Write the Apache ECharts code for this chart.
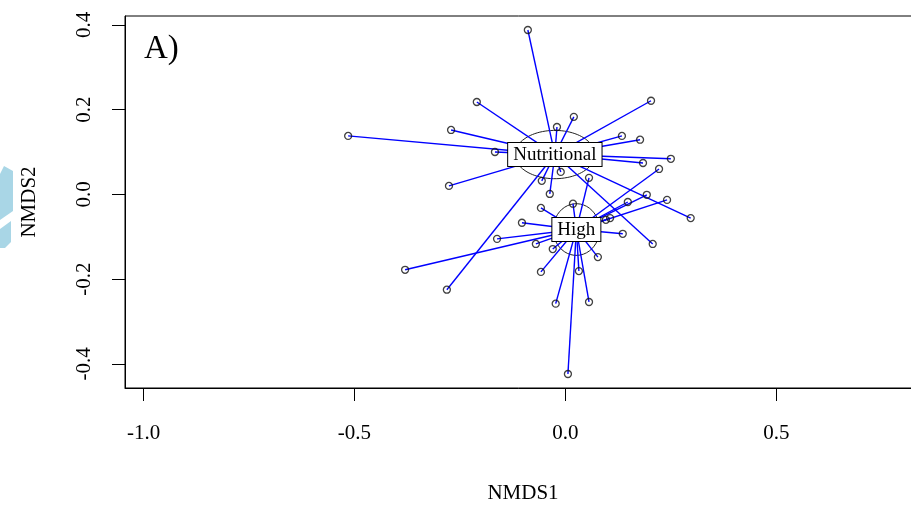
<!DOCTYPE html>
<html>
<head>
<meta charset="utf-8">
<script src="https://cdn.jsdelivr.net/npm/echarts@6/dist/echarts.min.js"></script>
<style>
html,body{margin:0;padding:0;background:#fff;}
#c{width:911px;height:507px;}
</style>
</head>
<body>
<div id="c"></div>
<script>
// ---- data ----
var groups = ['Nutritional', 'High'];
var centX = [-0.025, 0.026];
var centY = [0.094, -0.083];
// ellipse half-widths (x units) and half-heights (y units)
var ellA = [0.095, 0.055];
var ellB = [0.057, 0.061];

var nutX = [-0.089, -0.210, -0.271, -0.515, -0.167, -0.276, 0.203, 0.020, -0.020, 0.134, 0.177, 0.250, 0.184, -0.056, -0.037, -0.281, 0.297, 0.207, -0.011];
var nutY = [0.388, 0.218, 0.152, 0.138, 0.100, 0.020, 0.221, 0.183, 0.159, 0.138, 0.129, 0.084, 0.074, 0.032, 0.001, -0.225, -0.056, -0.117, 0.053];

var highX = [0.222, 0.193, 0.148, 0.241, 0.056, 0.018, -0.058, -0.103, -0.162, -0.070, -0.030, -0.380, -0.058, -0.023, 0.032, 0.077, 0.056, 0.006, 0.136, 0.096, 0.106];
var highY = [0.060, -0.001, -0.018, -0.013, 0.039, -0.022, -0.032, -0.067, -0.105, -0.117, -0.129, -0.178, -0.183, -0.258, -0.181, -0.148, -0.254, -0.424, -0.093, -0.060, -0.056];

var xTicks = [-1.0, -0.5, 0.0, 0.5];
var yTicks = [-0.4, -0.2, 0.0, 0.2, 0.4];

// ---- build series ----
var FONT = 'Liberation Serif';
var groupX = [nutX, highX];
var groupY = [nutY, highY];

var spider = [];
var pts = [];
var ellipses = [];
for (var g = 0; g < groups.length; g++) {
  for (var i = 0; i < groupX[g].length; i++) {
    spider.push({coords: [[centX[g], centY[g]], [groupX[g][i], groupY[g][i]]]});
    pts.push([groupX[g][i], groupY[g][i]]);
  }
  var e = [];
  for (var k = 0; k <= 90; k++) {
    var t = k / 90 * Math.PI * 2;
    e.push([centX[g] + ellA[g] * Math.cos(t), centY[g] + ellB[g] * Math.sin(t)]);
  }
  ellipses.push(e);
}

var labelData = groups.map(function (n, j) { return {name: n, value: [centX[j], centY[j]]}; });

var chart = echarts.init(document.getElementById('c'), null, {renderer: 'canvas'});
chart.setOption({
  animation: false,
  backgroundColor: '#ffffff',
  grid: {
    left: 125, top: 16, right: -10, bottom: 119,
    show: true, borderColor: '#000', borderWidth: 1,
    containLabel: false, outerBoundsMode: 'none'
  },
  xAxis: {
    type: 'value', min: -1.044, max: 0.843,
    axisLine: {show: true, onZero: false, lineStyle: {color: '#000', width: 1}},
    axisTick: {show: true, length: 13, customValues: xTicks, lineStyle: {color: '#000', width: 1}},
    axisLabel: {
      customValues: xTicks, margin: 35, color: '#000', fontFamily: FONT, fontSize: 21,
      formatter: function (v) { return Number(v).toFixed(1); }
    },
    splitLine: {show: false},
    name: 'NMDS1', nameLocation: 'middle', nameGap: 95,
    nameTextStyle: {color: '#000', fontFamily: FONT, fontSize: 21}
  },
  yAxis: {
    type: 'value', min: -0.457, max: 0.421,
    axisLine: {show: true, onZero: false, lineStyle: {color: '#000', width: 1}},
    axisTick: {show: true, length: 13, customValues: yTicks, lineStyle: {color: '#000', width: 1}},
    axisLabel: {
      customValues: yTicks, rotate: 90, margin: 30, color: '#000', fontFamily: FONT, fontSize: 21,
      formatter: function (v) { return Number(v).toFixed(1); }
    },
    splitLine: {show: false},
    name: 'NMDS2', nameLocation: 'middle', nameGap: 85, nameRotate: 90,
    nameTextStyle: {color: '#000', fontFamily: FONT, fontSize: 21}
  },
  graphic: [
    {type: 'polygon', z: 0, shape: {points: [[0, 174], [4, 166], [13, 171], [13, 211], [0, 220]]}, style: {fill: '#a9d6e6'}},
    {type: 'polygon', z: 0, shape: {points: [[0, 229], [11, 221], [11, 242], [5, 248], [0, 248]]}, style: {fill: '#a9d6e6'}},
    {type: 'text', z: 100, x: 144, y: 49, style: {text: 'A)', font: '33px "Liberation Serif"', fill: '#000', verticalAlign: 'middle', align: 'left'}}
  ],
  series: [
    {type: 'line', data: ellipses[0], showSymbol: false, symbol: 'none', smooth: false, z: 1,
     lineStyle: {color: '#222', width: 1}, silent: true},
    {type: 'line', data: ellipses[1], showSymbol: false, symbol: 'none', smooth: false, z: 1,
     lineStyle: {color: '#222', width: 1}, silent: true},
    {type: 'lines', coordinateSystem: 'cartesian2d', data: spider, z: 2, silent: true,
     lineStyle: {color: '#0000ff', width: 1.4, opacity: 1, curveness: 0}},
    {type: 'scatter', data: pts, symbol: 'circle', symbolSize: 7, z: 3, silent: true,
     itemStyle: {color: 'rgba(0,0,0,0)', borderColor: '#111', borderWidth: 1.3}},
    {type: 'scatter', data: labelData, symbolSize: 1, z: 5, zlevel: 1, silent: true,
     itemStyle: {color: '#fff', opacity: 1},
     label: {show: true, position: 'inside', formatter: '{b}', color: '#000', opacity: 1, fontFamily: FONT, fontSize: 19,
             lineHeight: 19, backgroundColor: '#ffffff', borderColor: '#000', borderWidth: 1, padding: [2, 5, 2, 5]}}
  ]
});
</script>
</body>
</html>
